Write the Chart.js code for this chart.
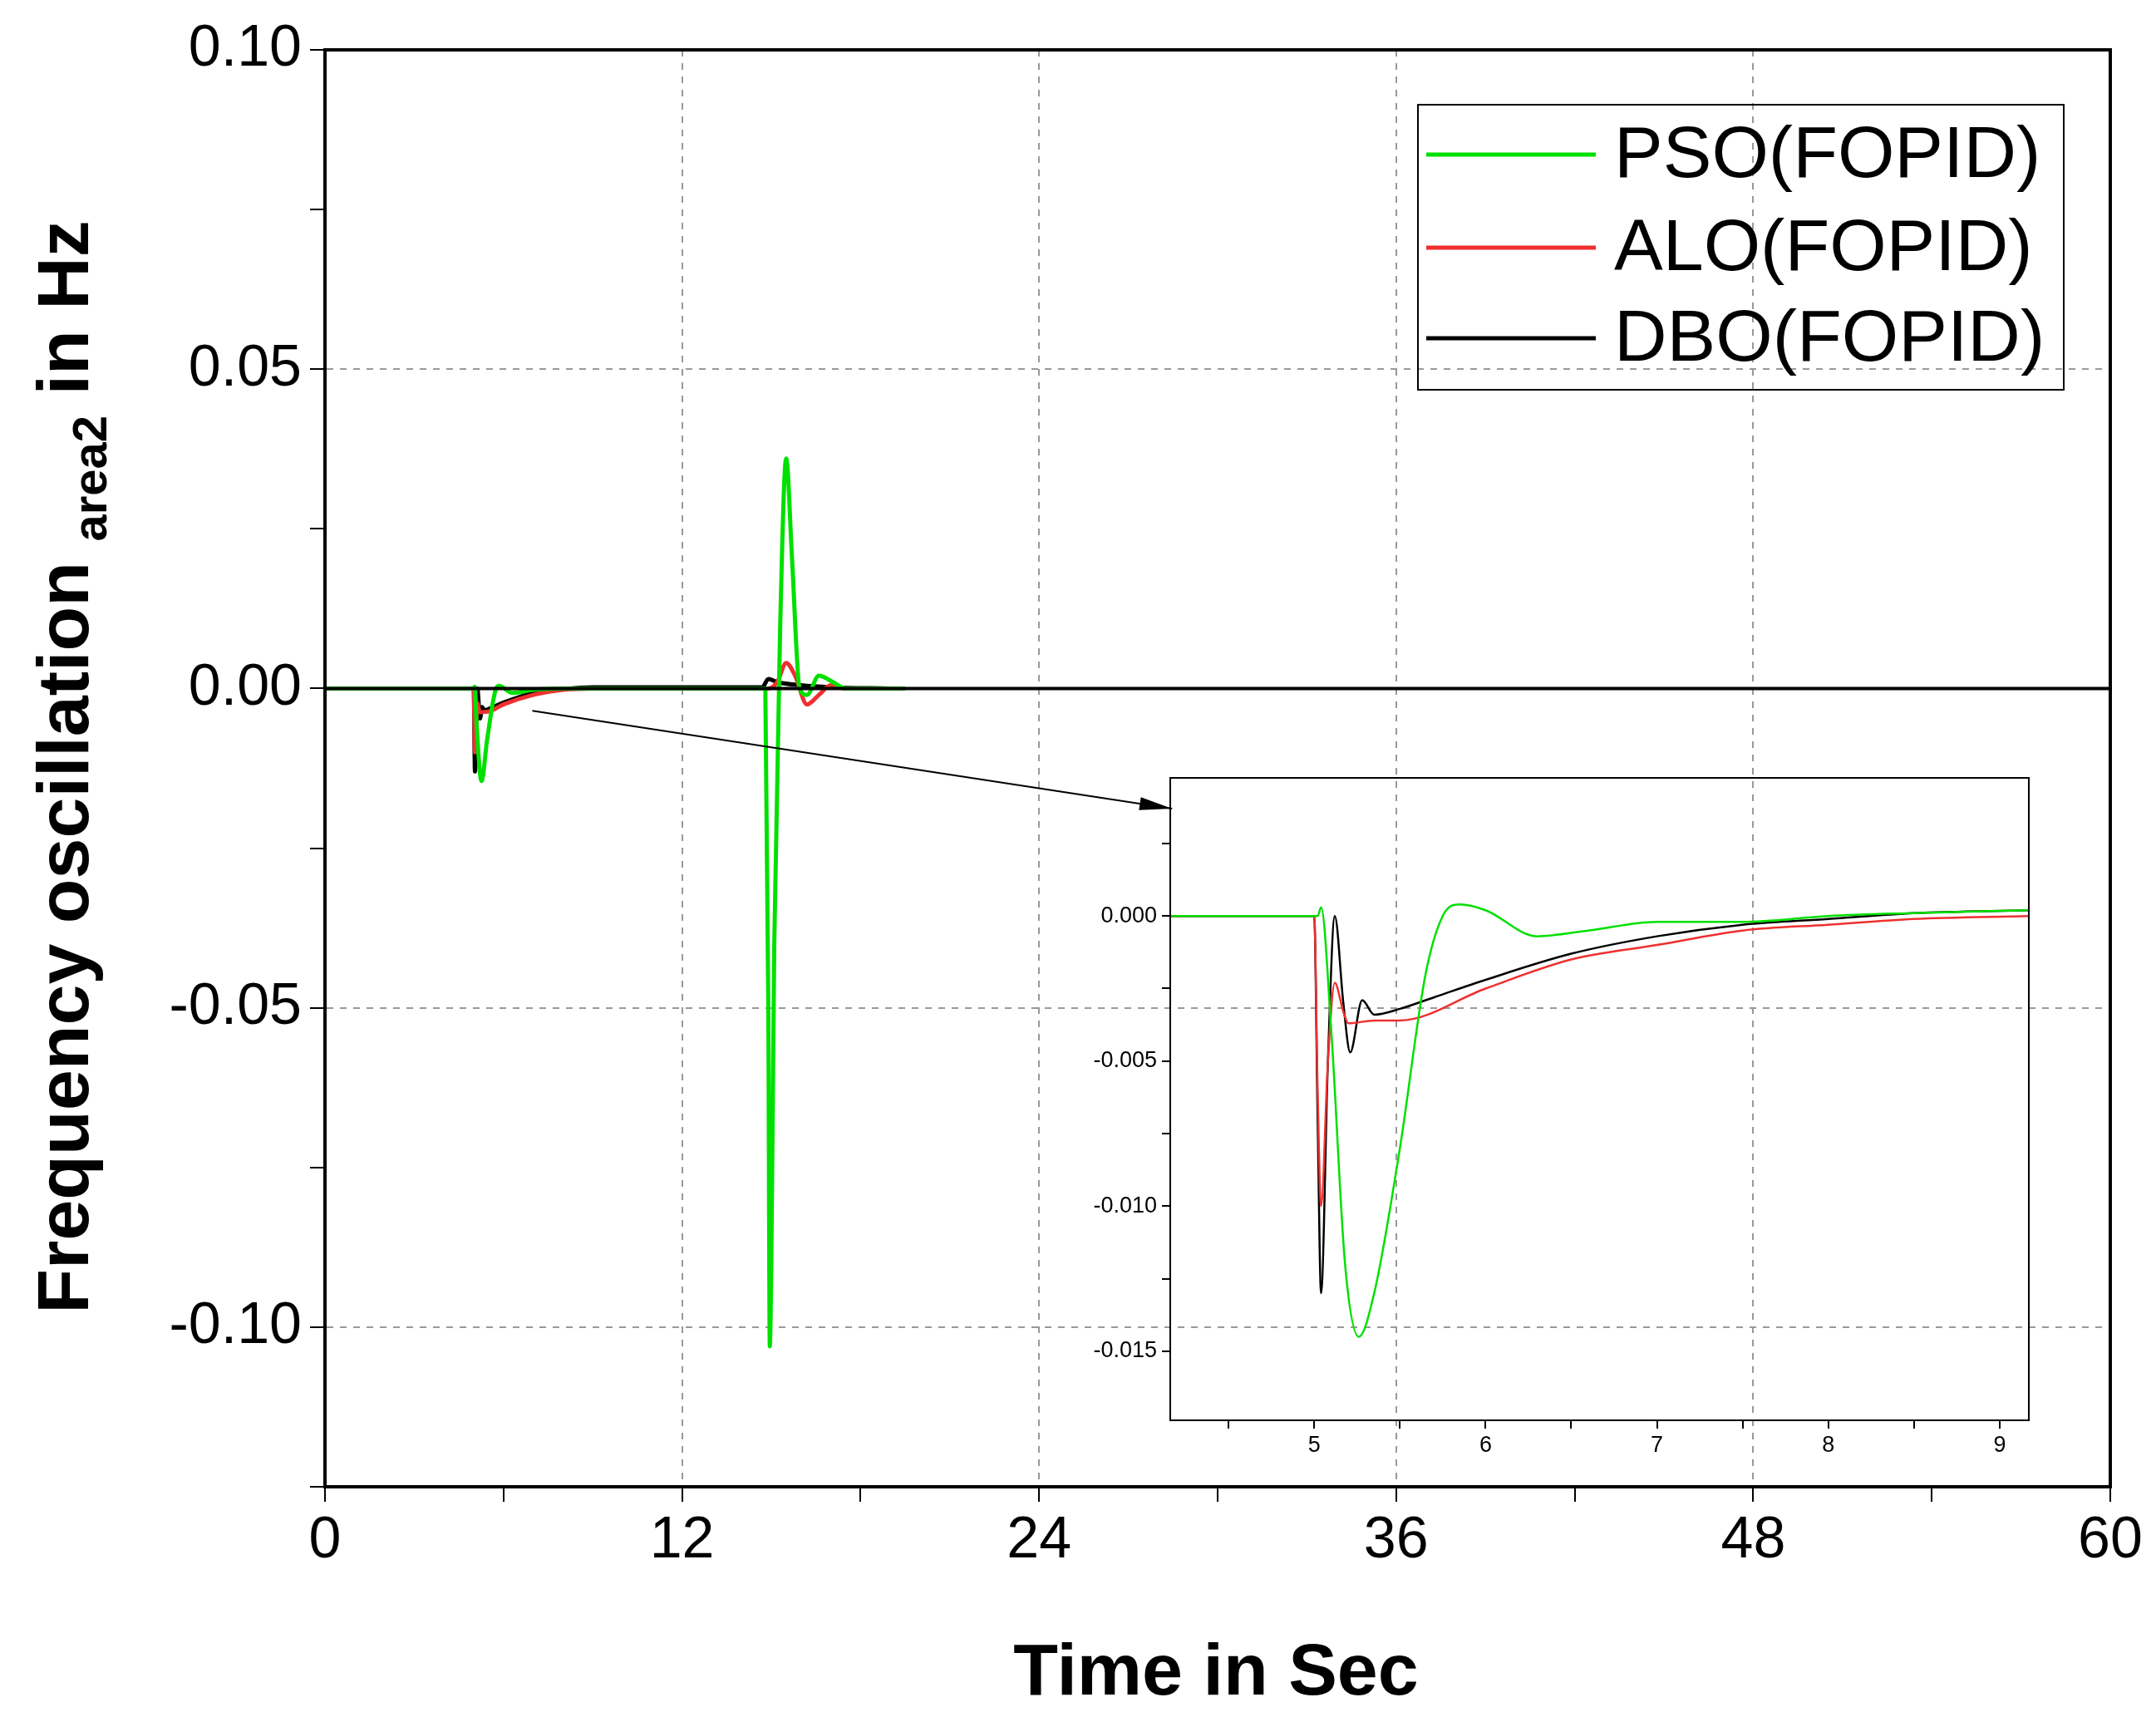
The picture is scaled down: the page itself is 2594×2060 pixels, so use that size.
<!DOCTYPE html>
<html><head><meta charset="utf-8">
<script src="https://cdn.jsdelivr.net/npm/chart.js@4.4.1/dist/chart.umd.min.js"></script>
<style>
html,body{margin:0;padding:0;background:#fff;}
#wrap{position:relative;width:2594px;height:2060px;}
#main{position:absolute;left:0;top:0;}
#inset{position:absolute;left:1280px;top:900px;}
</style></head><body>
<div id="wrap"><canvas id="main" width="2594" height="2060"></canvas><canvas id="inset" width="1200" height="880"></canvas></div>
<script>
// ---- data ----
const seriesNames = ["PSO(FOPID)", "ALO(FOPID)", "DBO(FOPID)"];
const seriesColors = ["#00e000", "#ee3030", "#000000"];
const yTickLabels = ["0.10","0.05","0.00","-0.05","-0.10"];
const xTickLabels = ["0","12","24","36","48","60"];

const psoT = [0,5.0,5.03,5.1,5.26,5.45,5.75,5.85,6.3,7,8,14.8,14.9,14.95,15.0,15.1,15.3,15.5,15.7,15.95,16.2,16.6,17.0,17.5,18,19.5];
const psoV = [0,0,0.0003,-0.006,-0.0145,-0.008,0,0.0004,-0.0007,-0.0002,0,0,-0.05,-0.103,-0.09,-0.04,0.01,0.036,0.02,0,-0.001,0.002,0.0012,0,0,0];
const aloT = [0,5.0,5.04,5.12,5.2,5.5,6,7,8,9,14.9,15.2,15.5,15.8,16.2,16.6,17,17.5,19.5];
const aloV = [0,0,-0.010,-0.0023,-0.0037,-0.0036,-0.0025,-0.001,-0.0002,0,0,0.001,0.004,0.002,-0.0025,-0.001,0.0005,0,0];
const dboT = [0,5.0,5.04,5.12,5.21,5.28,5.35,5.5,6,7,8,9,14.7,14.9,15.2,16,17,19];
const dboV = [0,0,-0.013,0,-0.0047,-0.0029,-0.0034,-0.0032,-0.0022,-0.0007,-0.0001,0.0002,0.0002,0.0015,0.001,0.0005,0.0002,0];

const inPsoT = [4.16,5.02,5.04,5.1,5.18,5.26,5.35,5.5,5.65,5.75,5.85,6.0,6.3,6.6,7,7.5,8,8.5,9.17];
const inPsoV = [0,0,0.0003,-0.004,-0.012,-0.0145,-0.013,-0.008,-0.002,0,0.0004,0.0002,-0.0007,-0.0005,-0.0002,-0.0002,0,0.0001,0.0002];
const inAloT = [4.16,5.0,5.02,5.04,5.08,5.12,5.17,5.2,5.35,5.5,6,6.5,7,7.5,8,8.5,9.17];
const inAloV = [0,0,-0.006,-0.010,-0.005,-0.0023,-0.0033,-0.0037,-0.0036,-0.0036,-0.0025,-0.0015,-0.001,-0.0005,-0.0003,-0.0001,0];
const inDboT = [4.16,5.0,5.02,5.04,5.08,5.12,5.17,5.21,5.28,5.35,5.5,5.7,6,6.5,7,7.5,8,8.5,9.17];
const inDboV = [0,0,-0.007,-0.013,-0.005,0,-0.003,-0.0047,-0.0029,-0.0034,-0.0032,-0.0028,-0.0022,-0.0013,-0.0007,-0.0003,-0.0001,0.0001,0.0002];

const zeroT = [0,60], zeroV = [0,0];

const pts = (t,v)=>t.map((x,i)=>({x:x,y:v[i]}));
const ds = (t,v,c,w)=>({data:pts(t,v),borderColor:c,borderWidth:w,pointRadius:0,fill:false,tension:0.35,cubicInterpolationMode:'monotone'});
const FONT = "'Liberation Sans', Arial, sans-serif";

const boxPlugin = {id:'box',afterDraw(ch,a,o){const c=ch.ctx,ca=ch.chartArea;c.save();c.strokeStyle='#000';c.lineWidth=o.w;c.strokeRect(ca.left,ca.top,ca.right-ca.left,ca.bottom-ca.top);c.restore();}};

const mainDecor = {id:'decor',afterDraw(ch){
  const c=ch.ctx,x=ch.scales.x,y=ch.scales.y;
  c.save();
  // legend
  const lx=1706,ly=126,lw=777,lh=343;
  c.strokeStyle='#000';c.lineWidth=2;c.strokeRect(lx,ly,lw,lh);
  const rows=[186,298,407];
  c.font='88px '+FONT;c.textBaseline='middle';c.fillStyle='#000';
  rows.forEach((ry,i)=>{c.strokeStyle=seriesColors[i];c.lineWidth=5;c.beginPath();c.moveTo(1716,ry);c.lineTo(1920,ry);c.stroke();c.fillText(seriesNames[i],1942,ry+3);});
  // arrow
  const x1=x.getPixelForValue(6.97),y1=y.getPixelForValue(-0.0035),x2=x.getPixelForValue(28.47),y2=y.getPixelForValue(-0.0188);
  c.strokeStyle='#000';c.lineWidth=2;c.beginPath();c.moveTo(x1,y1);c.lineTo(x2,y2);c.stroke();
  const ang=Math.atan2(y2-y1,x2-x1);c.fillStyle='#000';c.beginPath();c.moveTo(x2,y2);
  c.lineTo(x2-40*Math.cos(ang-0.2),y2-40*Math.sin(ang-0.2));c.lineTo(x2-40*Math.cos(ang+0.2),y2-40*Math.sin(ang+0.2));c.closePath();c.fill();
  // x title
  c.font='bold 88px '+FONT;c.textAlign='center';c.textBaseline='middle';c.fillText('Time in Sec',1463,2015);
  // y title
  c.translate(82,923);c.rotate(-Math.PI/2);
  const p1='Frequency oscillation ',sub='area2',p3=' in Hz';
  c.font='bold 88px '+FONT;const w1=c.measureText(p1).width,w3=c.measureText(p3).width;
  c.font='bold 58px '+FONT;const w2=c.measureText(sub).width;
  let sx=-(w1+w2+w3)/2;c.textAlign='left';
  c.font='bold 88px '+FONT;c.fillText(p1,sx,0);sx+=w1;
  c.font='bold 58px '+FONT;c.fillText(sub,sx,30);sx+=w2;
  c.font='bold 88px '+FONT;c.fillText(p3,sx,0);
  c.restore();
}};

new Chart(document.getElementById('main'),{
  type:'line',
  data:{datasets:[ds(zeroT,zeroV,'#000',4),ds(psoT,psoV,seriesColors[0],5),ds(aloT,aloV,seriesColors[1],5),ds(dboT,dboV,seriesColors[2],5)]},
  options:{responsive:false,animation:false,events:[],
    layout:{padding:{top:60,right:55,left:0,bottom:0}},
    plugins:{legend:{display:false},tooltip:{enabled:false},box:{w:4}},
    scales:{
      x:{type:'linear',min:0,max:60,
        afterFit:s=>{s.height=271;},
        afterBuildTicks:s=>{s.ticks=[0,6,12,18,24,30,36,42,48,54,60].map(v=>({value:v}));},
        ticks:{autoSkip:false,maxRotation:0,font:{size:70,family:FONT},color:'#000',padding:6,
          callback:v=>(v%12===0?xTickLabels[v/12]:'')},
        grid:{color:c=>(c.tick&&c.tick.value%12===0&&c.tick.value>0&&c.tick.value<60)?'#999':'rgba(0,0,0,0)',tickColor:'#000',lineWidth:2,tickLength:18,drawOnChartArea:true},
        border:{display:true,color:'#000',width:4,dash:[8,8]}},
      y:{type:'linear',min:-0.125,max:0.10,
        afterFit:s=>{s.width=391;},
        afterBuildTicks:s=>{s.ticks=[-0.125,-0.1,-0.075,-0.05,-0.025,0,0.025,0.05,0.075,0.1].map(v=>({value:v}));},
        ticks:{autoSkip:false,font:{size:70,family:FONT},color:'#000',padding:10,
          callback:v=>{const i=[0.1,0.05,0,-0.05,-0.1].findIndex(q=>Math.abs(q-v)<1e-9);return i>=0?yTickLabels[i]:'';}},
        grid:{color:c=>{const v=c.tick?c.tick.value:1;return ([0.05,-0.05,-0.1].some(q=>Math.abs(q-v)<1e-9))?'#999':'rgba(0,0,0,0)';},tickColor:'#000',lineWidth:2,tickLength:18},
        border:{display:true,color:'#000',width:4,dash:[8,8]}}
    }},
  plugins:[boxPlugin,mainDecor]
});

// inset: canvas left 1280 top 900; plot area 1408..2441 x, 936..1709 y
new Chart(document.getElementById('inset'),{
  type:'line',
  data:{datasets:[ds(inPsoT,inPsoV,seriesColors[0],2.5),ds(inAloT,inAloV,seriesColors[1],2.5),ds(inDboT,inDboV,seriesColors[2],2.5)]},
  options:{responsive:false,animation:false,events:[],
    layout:{padding:{top:36,right:1200-1161,left:0,bottom:0}},
    plugins:{legend:{display:false},tooltip:{enabled:false},box:{w:2}},
    scales:{
      x:{type:'linear',min:4.16,max:9.17,
        afterFit:s=>{s.height=880-809;},
        afterBuildTicks:s=>{s.ticks=[4.5,5,5.5,6,6.5,7,7.5,8,8.5,9].map(v=>({value:v}));},
        ticks:{autoSkip:false,maxRotation:0,font:{size:27,family:FONT},color:'#000',padding:4,callback:v=>(Number.isInteger(v)?String(v):'')},
        grid:{drawOnChartArea:false,tickColor:'#000',lineWidth:2,tickLength:10},
        border:{color:'#000',width:2}},
      y:{type:'linear',min:-0.01738,max:0.00476,
        afterFit:s=>{s.width=128;},
        afterBuildTicks:s=>{s.ticks=[-0.015,-0.0125,-0.01,-0.0075,-0.005,-0.0025,0,0.0025].map(v=>({value:v}));},
        ticks:{autoSkip:false,font:{size:27,family:FONT},color:'#000',padding:6,
          callback:v=>{const m=[0,-0.005,-0.01,-0.015].find(q=>Math.abs(q-v)<1e-9);return m===undefined?'':m.toFixed(3);}},
        grid:{drawOnChartArea:false,tickColor:'#000',lineWidth:2,tickLength:10},
        border:{color:'#000',width:2}}
    }},
  plugins:[boxPlugin]
});
</script></body></html>
